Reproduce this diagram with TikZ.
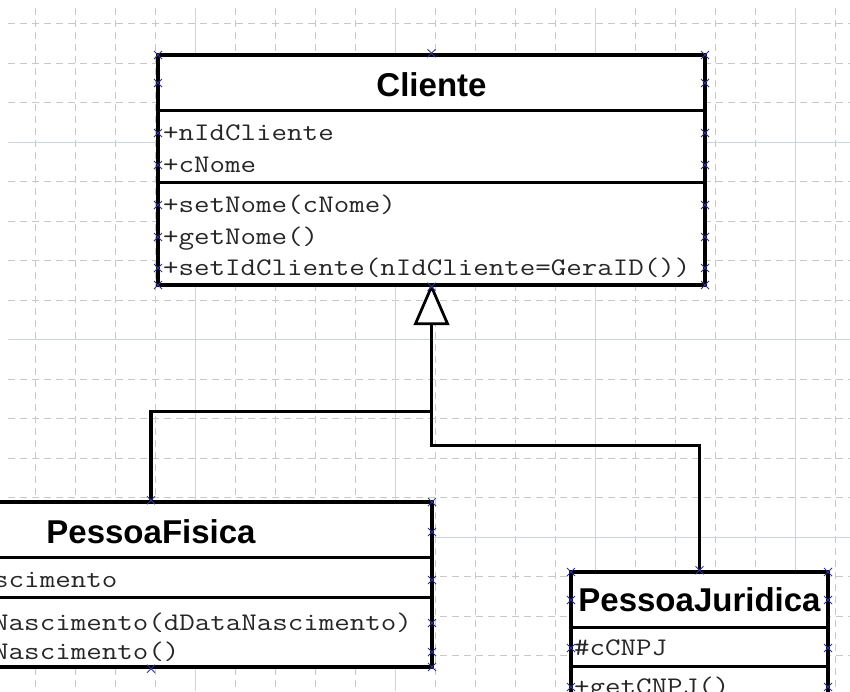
\documentclass[tikz,border=0pt]{standalone}
\usepackage{fontspec}
\usepackage{xcolor}
\usepackage{tikz}
\usetikzlibrary{calc}
\newfontfamily\titlefont{Liberation Sans}
\newfontfamily\codefont{Latin Modern Mono}[FakeStretch=1.19]
\definecolor{handleblue}{RGB}{50,50,145}
\definecolor{gridgray}{RGB}{200,200,200}
\definecolor{gridblue}{RGB}{205,212,222}
\tikzstyle{classbox} = [draw=black, line width=3.4pt, fill=white, inner sep=0pt]
\tikzstyle{classname} = [anchor=base, inner sep=0pt, font=\titlefont\bfseries\fontsize{33}{33}\selectfont]
\tikzstyle{member} = [anchor=base west, inner sep=0pt, text=black!85, font=\codefont\fontsize{25.3}{26}\selectfont]
\tikzstyle{divider} = [line width=3pt]
\tikzstyle{assoc} = [line width=3.4pt, line join=miter]
\tikzstyle{gridminor} = [gridgray, line width=0.8pt, dash pattern=on 7pt off 5pt]
\tikzstyle{gridmajor} = [gridblue, line width=0.9pt]
\tikzstyle{handlemark} = [handleblue, line width=0.9pt]
\newcommand{\hmark}[1]{\draw[handlemark] #1 +(-4,-4) -- +(4,4) +(-4,4) -- +(4,-4);}

\begin{document}
\begin{tikzpicture}[x=1pt,y=-1pt]
            \useasboundingbox (0,0) rectangle (850,691);
            \clip (0,0) rectangle (850,691);
            \fill[white] (0,0) rectangle (850,691);
            % grid
            \foreach \x in {35,75,...,835} \draw[gridminor] (\x,8) -- (\x,691);
            \foreach \y in {23.5,63,...,691} \draw[gridminor] (8,\y) -- (850,\y);
            \foreach \x in {195,395,595,795} \draw[gridmajor] (\x,8) -- (\x,691);
            \foreach \y in {142,339.5,537} \draw[gridmajor] (8,\y) -- (850,\y);

            % Cliente
            \node[classbox, minimum width=547pt, minimum height=230pt] (cliente) at (431.5,170) {};
            \draw[divider] (158,110) -- (705,110);
            \draw[divider] (158,182) -- (705,182);
            \node[classname] (cliente-name) at (431.5,96) {Cliente};
            \node[member] (cliente-a1) at (163,140.5) {+nIdCliente};
            \node[member] (cliente-a2) at (163,172.5) {+cNome};
            \node[member] (cliente-m1) at (163,212.5) {+setNome(cNome)};
            \node[member] (cliente-m2) at (163,244.5) {+getNome()};
            \node[member] (cliente-m3) at (163,275.5) {+setIdCliente(nIdCliente=GeraID())};

            % PessoaFisica
            \node[classbox, minimum width=562pt, minimum height=165pt] (pf) at (151,584.5) {};
            \draw[divider] (-130,557) -- (432,557);
            \draw[divider] (-130,597) -- (432,597);
            \node[classname] (pf-name) at (151,543) {PessoaFisica};
            \node[member] (pf-a1) at (-131,587.5) {+dDataNascimento};
            \node[member] (pf-m1) at (-131,630) {+setDataNascimento(dDataNascimento)};
            \node[member] (pf-m2) at (-131,659) {+getDataNascimento()};

            % PessoaJuridica
            \node[classbox, minimum width=257pt, minimum height=200pt] (pj) at (699.5,672) {};
            \draw[divider] (571,627) -- (828,627);
            \draw[divider] (571,666) -- (828,666);
            \node[classname] (pj-name) at (699.5,611) {PessoaJuridica};
            \node[member] (pj-a1) at (574,655.5) {\#cCNPJ};
            \node[member] (pj-m1) at (574,694.5) {+getCNPJ()};

            % generalization
            \coordinate (tri) at ($(cliente.south)+(0,37)$);
            \coordinate (bend1) at ($(cliente.south)+(0,125)$);
            \coordinate (bend2) at ($(cliente.south)+(0,159)$);
            \draw[assoc] (pf.north) |- (bend1) -- (tri);
            \draw[assoc] (pj.north) |- (bend2) -- (bend1);
            \draw[line width=2.8pt, fill=white, line join=miter] (cliente.south) -- ($(tri)+(16,0)$) -- ($(tri)+(-16,0)$) -- cycle;

            % handles
            \foreach \y in {55,83,133,165,205,237,268,285} {\hmark{(158,\y)} \hmark{(705,\y)}}
            \hmark{(cliente.north)} \hmark{(cliente.south)}
            \foreach \y in {502,532,580,623,652,667} {\hmark{(432,\y)}}
            \hmark{(pf.north)} \hmark{(pf.south)}
            \foreach \y in {572,600,648,687} {\hmark{(571,\y)} \hmark{(828,\y)}}
            \hmark{(pj.north)}
        \end{tikzpicture}
\end{document}
